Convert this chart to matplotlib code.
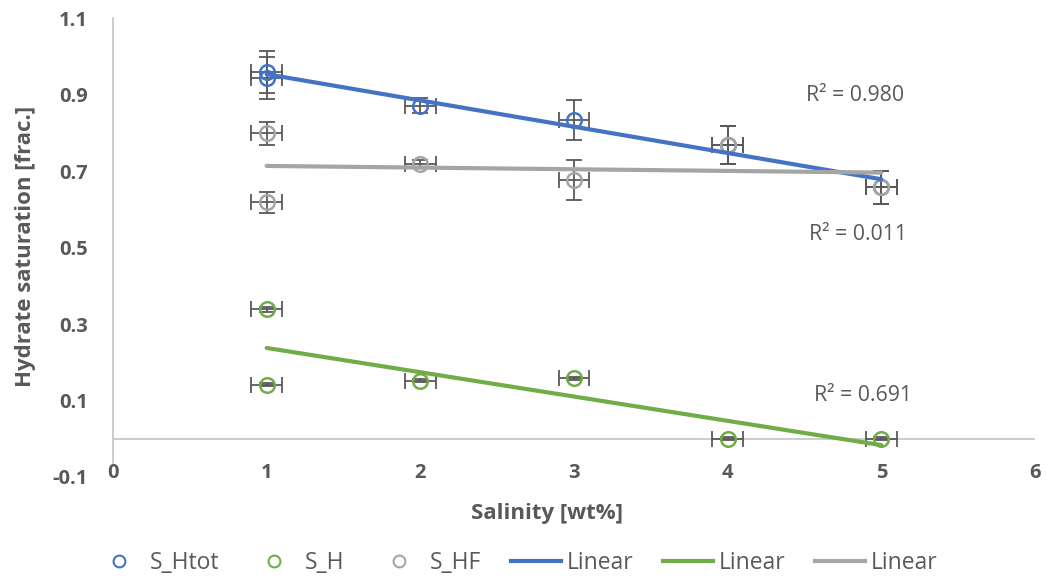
import numpy as np
import matplotlib
matplotlib.use("Agg")
import matplotlib.pyplot as plt
from matplotlib.lines import Line2D

plt.rcParams['font.family'] = ['Open Sans', 'DejaVu Sans']
plt.rcParams['axes.unicode_minus'] = False

# Salinity [wt%] and hydrate saturations [frac.]
salinity = [1, 1, 2, 3, 4, 5]
s_htot = [0.959, 0.943, 0.871, 0.834, 0.768, 0.657]
s_h = [0.338, 0.141, 0.152, 0.158, 0.0, 0.0]
s_hf = [0.799, 0.618, 0.718, 0.676, 0.768, 0.657]

# Error bars
salinity_err = [0.1, 0.1, 0.1, 0.1, 0.1, 0.1]
s_htot_err = [0.055, 0.055, 0.02, 0.052, 0.05, 0.043]
s_h_err = [0.006, 0.004, 0.004, 0.004, 0.004, 0.004]
s_hf_err = [0.03, 0.027, 0.01, 0.052, 0.05, 0.043]

r2_labels = ["R² = 0.980", "R² = 0.011", "R² = 0.691"]
r2_pos = [(4.83, 0.898), (4.845, 0.534), (4.88, 0.114)]

x_ticks = [0, 1, 2, 3, 4, 5, 6]
y_ticks = [-0.1, 0.1, 0.3, 0.5, 0.7, 0.9, 1.1]

BLUE = "#4472C4"
GREEN = "#70AD47"
GRAY = "#A5A5A5"
ERR = "#595959"
TXT = "#595959"

fig = plt.figure(figsize=(10.46, 5.79), dpi=100)
ax = fig.add_axes([113 / 1046, 1 - 477 / 579, 922 / 1046, 459 / 579])

x = np.array(salinity, dtype=float)
series = [
    ("S_Htot", s_htot, s_htot_err, BLUE),
    ("S_H", s_h, s_h_err, GREEN),
    ("S_HF", s_hf, s_hf_err, GRAY),
]

# zero line
ax.axhline(0, color="#C8C8C8", lw=1.3, zorder=1)

for name, y, yerr, col in series:
    ax.errorbar(x, y, xerr=salinity_err, yerr=yerr, fmt="none",
                ecolor=ERR, elinewidth=1.3, capsize=5.5, capthick=1.3, zorder=3)
    ax.plot(x, y, "o", mfc="none", mec=col, mew=1.8, ms=10.5, zorder=4, ls="none")

# linear trendlines
xx = np.array([1.0, 5.0])
for (name, y, yerr, col), (lx, ly), lab in zip(series, r2_pos, r2_labels):
    k, b = np.polyfit(x, np.array(y), 1)
    ax.plot(xx, k * xx + b, color=col, lw=3.0, zorder=5, solid_capstyle="round")
    ax.text(lx, ly, lab, ha="center", va="center", fontsize=15.3, color=TXT)

ax.set_xlim(0, 6)
ax.set_ylim(-0.1, 1.1)
ax.set_xticks(x_ticks)
ax.set_xticklabels([str(t) for t in x_ticks])
ax.set_yticks(y_ticks)
ax.set_yticklabels([f"{t:.1f}" for t in y_ticks])
for lab in ax.get_xticklabels() + ax.get_yticklabels():
    lab.set_fontweight("bold")
    lab.set_color(TXT)
    lab.set_fontsize(14.5)
ax.tick_params(axis="both", length=0)
ax.tick_params(axis="y", pad=18)
ax.tick_params(axis="x", pad=-10)

for s in ["top", "right", "bottom"]:
    ax.spines[s].set_visible(False)
ax.spines["left"].set_color("#C8C8C8")
ax.spines["left"].set_linewidth(1.3)
ax.spines["left"].set_bounds(-0.063, 1.1)

fig.text(547 / 1046, 1 - 514 / 579, "Salinity [wt%]", ha="center", va="center",
         fontsize=16, fontweight="bold", color=TXT)
fig.text(26 / 1046, 1 - 246 / 579, "Hydrate saturation [frac.]", ha="center",
         va="center", rotation=90, fontsize=16, fontweight="bold", color=TXT)

handles = [
    Line2D([], [], ls="none", marker="o", mfc="none", mec=BLUE, mew=1.5, ms=8.5),
    Line2D([], [], ls="none", marker="o", mfc="none", mec=GREEN, mew=1.5, ms=8.5),
    Line2D([], [], ls="none", marker="o", mfc="none", mec=GRAY, mew=1.5, ms=8.5),
    Line2D([], [], color=BLUE, lw=3),
    Line2D([], [], color=GREEN, lw=3),
    Line2D([], [], color=GRAY, lw=3),
]
labels = ["S_Htot", "S_H", "S_HF", "Linear", "Linear", "Linear"]
leg = fig.legend(handles, labels, loc="center", bbox_to_anchor=(516 / 1046, 1 - 563 / 579),
                 ncol=6, frameon=False, fontsize=16.5, handlelength=2.17,
                 handletextpad=0.25, columnspacing=1.31, borderpad=0, borderaxespad=0)
for t in leg.get_texts():
    t.set_color(TXT)

fig.savefig("out.png", dpi=100)
